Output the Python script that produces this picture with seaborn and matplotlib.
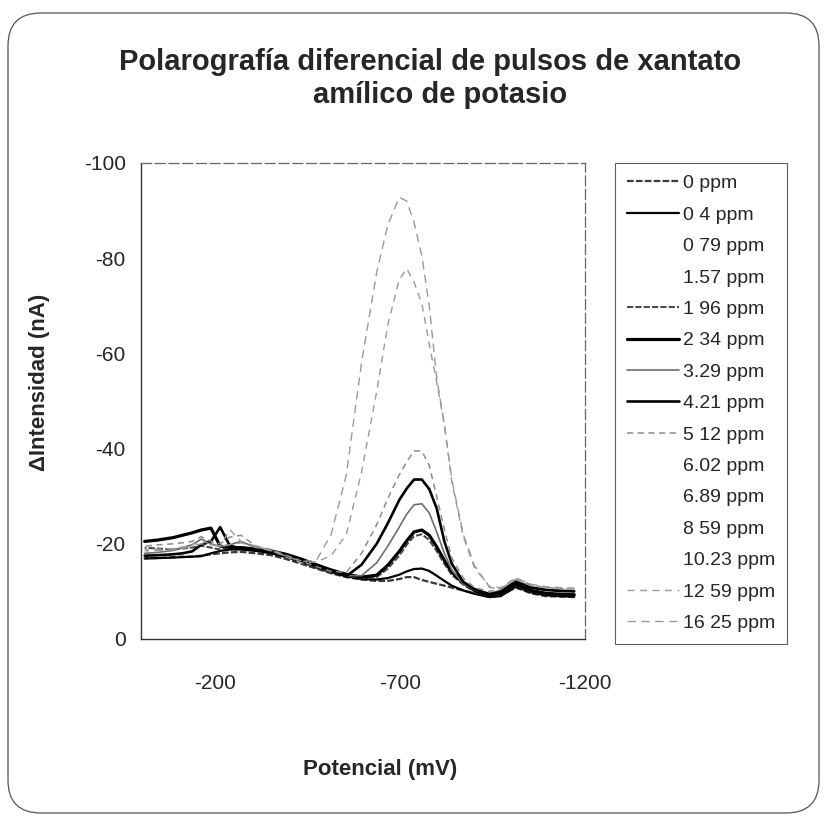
import seaborn as sns
import matplotlib.pyplot as plt
from matplotlib.lines import Line2D
from matplotlib.patches import FancyBboxPatch

# potential (mV) shared by every scan
potential = [-10, -46, -87, -112, -138, -163, -189, -214, -240, -270,
             -311, -352, -392, -433, -474, -514, -555, -596, -637, -667,
             -698, -718, -738, -759, -779, -799, -820, -840, -871, -901,
             -942, -972, -1013, -1054, -1094, -1135, -1171]

# delta current (nA) for the scans that show up in the picture
i_0 = [-17, -17, -17.2, -17.3, -17.3, -17.5, -17.8, -18, -18.2, -18.3,
       -18, -17.6, -16.8, -15.8, -14.8, -13.8, -13, -12.5, -12.2, -12.2,
       -12.6, -13, -13, -12.4, -12, -11.6, -11.2, -10.8, -10.2, -9.6,
       -8.8, -9.2, -10.8, -9.6, -9, -8.9, -8.8]
i_04 = [-16.9, -17, -17.1, -17.2, -17.3, -17.4, -18, -18.5, -18.8, -18.8,
        -18.5, -18, -17.2, -16.2, -15, -14, -13.2, -12.6, -12.5, -12.8,
        -13.5, -14.2, -14.7, -14.8, -14.3, -13.3, -12.2, -11.2, -10.2, -9.5,
        -8.8, -9, -11, -9.8, -9.2, -9, -8.9]
i_196 = [-19.2, -19, -18.8, -19, -19.2, -19.6, -19.2, -18.8, -19.5, -19.2,
         -18.8, -18.4, -17.6, -16.6, -15.4, -14.3, -13.4, -12.8, -13, -14.8,
         -17.5, -19.8, -21.6, -22, -20.8, -18.5, -15.8, -13.5, -11.4, -10,
         -9, -9.4, -11.3, -10, -9.5, -9.3, -9.2]
i_234 = [-20.5, -20.8, -21.3, -21.8, -22.3, -22.9, -23.3, -19.5, -19.2, -19.2,
         -18.9, -18.5, -17.8, -16.8, -15.6, -14.5, -13.6, -13, -13.4, -15.5,
         -18.4, -20.6, -22.5, -22.9, -21.8, -19.4, -16.5, -14, -11.8, -10.2,
         -9.1, -9.5, -11.5, -10.2, -9.6, -9.4, -9.3]
i_329 = [-18, -18.2, -18.6, -19.2, -19.8, -21, -20, -19.4, -19.8, -20.5,
         -19.2, -18.6, -17.5, -16.2, -15, -14, -13.3, -13.3, -16, -19.5,
         -23.5, -26.2, -28.2, -28.4, -26.5, -22.5, -18, -14.5, -11.6, -10.3,
         -9.6, -10.2, -12.3, -11, -10.4, -10.2, -10.1]
i_421 = [-17.5, -17.6, -17.8, -18, -18.4, -19.8, -20.5, -23.5, -19.6, -19,
         -18.7, -18.3, -17.4, -16.4, -15.2, -14.2, -13.2, -15.6, -20, -24.3,
         -29.2, -31.6, -33.5, -33.5, -31.5, -27.5, -20.5, -15.8, -12, -10.5,
         -9.4, -9.9, -12, -10.8, -10.3, -10.1, -10]
i_512 = [-19.5, -19.8, -20, -20.2, -20.5, -21.5, -20.5, -20, -21.4, -21.8,
         -19.5, -18.8, -17.6, -16.4, -15.2, -14.2, -14, -18, -24, -29.5,
         -34.5, -37.2, -39.5, -39.5, -36.5, -30, -23, -17, -12.8, -10.8,
         -10, -10.6, -12.8, -11.4, -10.8, -10.6, -10.5]
i_1259 = [-18.8, -18.9, -19, -19.3, -19.8, -20.5, -20, -19.5, -23, -20.5,
          -19.5, -18.6, -17.2, -16, -16.2, -17.5, -22, -35, -52, -66,
          -75.5, -77.8, -75, -70.5, -62, -54, -45, -33, -21.5, -15,
          -11, -10.8, -12.8, -11.5, -11, -10.8, -10.7]
i_1625 = [-18.5, -18.6, -18.8, -19, -19.5, -20, -19.8, -19.5, -19.8, -20.2,
          -19.3, -18.5, -17.4, -16.3, -16.5, -22, -34.5, -58, -77, -87,
          -92.8, -92, -87.5, -80.5, -70, -55, -45, -33.5, -22, -15.5,
          -10.8, -10.6, -12.5, -11.2, -10.8, -10.6, -10.5]

labels = ['0 ppm', '0 4 ppm', '0 79 ppm', '1.57 ppm', '1 96 ppm', '2 34 ppm',
          '3.29 ppm', '4.21 ppm', '5 12 ppm', '6.02 ppm', '6.89 ppm',
          '8 59 ppm', '10.23 ppm', '12 59 ppm', '16 25 ppm']

# scans that came out blank in the copy only appear in the legend
scans = {
    '0 ppm': i_0, '0 4 ppm': i_04, '1 96 ppm': i_196, '2 34 ppm': i_234,
    '3.29 ppm': i_329, '4.21 ppm': i_421, '5 12 ppm': i_512,
    '12 59 ppm': i_1259, '16 25 ppm': i_1625,
}
styles = {
    '0 ppm': dict(color='#3a3a3a', lw=1.6, ls=(0, (3, 1))),
    '0 4 ppm': dict(color='black', lw=1.6, ls='-'),
    '1 96 ppm': dict(color='#4a4a4a', lw=1.5, ls=(0, (3, 1))),
    '2 34 ppm': dict(color='black', lw=2.3, ls='-'),
    '3.29 ppm': dict(color='#6e6e6e', lw=1.2, ls='-'),
    '4.21 ppm': dict(color='black', lw=1.9, ls='-'),
    '5 12 ppm': dict(color='#8c8c8c', lw=1.1, ls=(0, (4, 3))),
    '12 59 ppm': dict(color='#9a9a9a', lw=1.0, ls=(0, (5, 4))),
    '16 25 ppm': dict(color='#9a9a9a', lw=1.0, ls=(0, (6, 4))),
}

sns.set_style('white')
plt.rcParams['font.family'] = ['Liberation Sans', 'DejaVu Sans']
plt.rcParams['axes.unicode_minus'] = False

fig = plt.figure(figsize=(8.27, 8.19), dpi=100)
ax = fig.add_axes([141 / 827, 1 - 639 / 819, 444 / 827, 476 / 819])

handles = []
for lab in labels:
    if lab in scans:
        st = styles[lab]
        sns.lineplot(x=potential, y=scans[lab], ax=ax, color=st['color'],
                     lw=st['lw'], linestyle=st['ls'], legend=False)
        handles.append(Line2D([], [], color=st['color'], lw=st['lw'], linestyle=st['ls']))
    else:
        handles.append(Line2D([], [], color='none'))

ax.set_xlim(0, -1200)
ax.set_ylim(0, -100)
ax.set_xticks([-200, -700, -1200])
ax.set_yticks([0, -20, -40, -60, -80, -100])
ax.tick_params(labelsize=15, length=3, direction='out', color='#444444')
ax.tick_params(axis='x', pad=22)
ax.tick_params(axis='y', pad=8)

for side in ['left', 'bottom']:
    ax.spines[side].set_color('#333333')
    ax.spines[side].set_linewidth(1.0)
for side in ['top', 'right']:
    ax.spines[side].set_color('#666666')
    ax.spines[side].set_linewidth(0.9)
    ax.spines[side].set_linestyle((0, (8, 3)))

fig.text(380 / 827, 1 - 770 / 819, 'Potencial (mV)', ha='center', va='center',
         fontsize=16, fontweight='bold')
fig.text(40 / 827, 1 - 382 / 819, '\u0394Intensidad (nA)', ha='center', va='center',
         fontsize=16, fontweight='bold', rotation=90)

fig.text(430 / 827, 1 - 62 / 819, 'Polarografía diferencial de pulsos de xantato',
         ha='center', va='center', fontsize=21, fontweight='bold')
fig.text(440 / 827, 1 - 95 / 819, 'amílico de potasio',
         ha='center', va='center', fontsize=21, fontweight='bold')

leg = fig.legend(handles, labels, loc='upper left', bbox_to_anchor=(615 / 827, 1 - 163 / 819),
                 fontsize=14, frameon=True, fancybox=False, handlelength=2.7,
                 handletextpad=0.2, labelspacing=0.71, borderpad=0.6, borderaxespad=0)
leg.get_frame().set_edgecolor('#333333')
leg.get_frame().set_linewidth(0.8)

# rounded border of the chart area
fig.patches.append(FancyBboxPatch((8 / 827, 6 / 819), 811 / 827, 800 / 819,
                                  boxstyle='round,pad=0,rounding_size=0.04',
                                  transform=fig.transFigure, fill=False,
                                  edgecolor='#555555', lw=0.9))

fig.savefig('out.png', dpi=100)
